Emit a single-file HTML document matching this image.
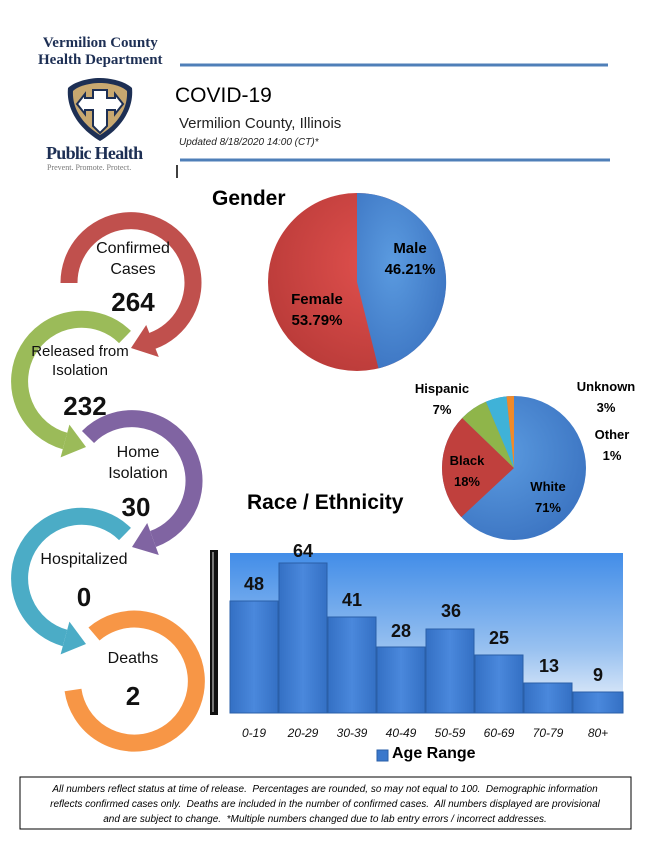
<!DOCTYPE html>
<html><head><meta charset="utf-8"><style>
body{margin:0;background:#fff;width:651px;height:846px;overflow:hidden;position:relative;font-family:"Liberation Sans",sans-serif}
.a{position:absolute;white-space:nowrap}
.c{transform:translateX(-50%);text-align:center}
.lab{font-size:16px;color:#111}
.num{font-size:26px;font-weight:bold;color:#111}
.xl{font-size:12px;font-style:italic;color:#111;top:726px}
.bv{font-size:18px;font-weight:bold;color:#111}
</style></head><body>
<svg class="a" style="left:0;top:0" width="651" height="846">
<line x1="180" y1="65" x2="608" y2="65" stroke="#4f7fb8" stroke-width="3"/>
<line x1="180" y1="160" x2="610" y2="160" stroke="#4f7fb8" stroke-width="3"/>
<line x1="177" y1="165" x2="177" y2="178" stroke="#000" stroke-width="1.5"/>
<path d="M100 78 C88 78 74 82 68 88 C66 108 78 128 100 141 C122 128 134 108 132 88 C126 82 112 78 100 78Z" fill="#1d2f54"/>
<path d="M100 83 C90 83 78 86 73 91 C72 108 82 124 100 135 C118 124 128 108 127 91 C122 86 110 83 100 83Z" fill="#c8a870"/>
<path d="M93 90 h14 v8 h8 v-4 l8 10 l-8 10 v-4 h-8 v16 l-7 7 l-7 -7 v-16 h-8 v4 l-8 -10 l8 -10 v4 h8z" fill="#fff" stroke="#1d2f54" stroke-width="2"/>
<g fill="none" stroke-width="17">
<path d="M69 283 A62 62 0 1 1 152 341" stroke="#c0504d"/>
<path d="M125 337 A62 62 0 1 0 65 441" stroke="#9bbb59"/>
<path d="M88 437 A62 62 0 1 1 153 539" stroke="#8064a2"/>
<path d="M125 534 A62 62 0 1 0 65 638" stroke="#4bacc6"/>
<path d="M94 634 A62 62 0 1 1 73 690" stroke="#f79646"/>
</g>
<polygon points="131,348 158.8,357 146.2,325" fill="#c0504d"/>
<polygon points="86,447 60.6,457.4 69.4,424.6" fill="#9bbb59"/>
<polygon points="132,547 158.8,555 147.2,523" fill="#8064a2"/>
<polygon points="86,644 60.6,654.4 69.4,621.6" fill="#4bacc6"/>
<defs>
<radialGradient id="gb" cx="0.4" cy="0.4" r="0.7"><stop offset="0" stop-color="#5b9be0"/><stop offset="1" stop-color="#3a72c0"/></radialGradient>
<radialGradient id="gr" cx="0.6" cy="0.4" r="0.7"><stop offset="0" stop-color="#e0504d"/><stop offset="1" stop-color="#b83a38"/></radialGradient>
<linearGradient id="bg" x1="0" y1="0" x2="0" y2="1"><stop offset="0" stop-color="#428de8"/><stop offset="0.6" stop-color="#98c1f0"/><stop offset="1" stop-color="#eef3fb"/></linearGradient>
<linearGradient id="bar" x1="0" y1="0" x2="1" y2="0"><stop offset="0" stop-color="#3470c4"/><stop offset="0.5" stop-color="#4a88dc"/><stop offset="1" stop-color="#3470c4"/></linearGradient>
</defs>
<circle cx="357" cy="282" r="89" fill="url(#gr)"/>
<path d="M357 282 L357 193 A89 89 0 0 1 378.5 368.4 Z" fill="url(#gb)"/>
<circle cx="514" cy="468" r="72" fill="url(#gb)"/>
<path d="M514 468 L461.3 517.1 A72 72 0 0 1 462.2 418 Z" fill="#c0403d"/>
<path d="M514 468 L462.2 418 A72 72 0 0 1 486 401.6 Z" fill="#8fb54a"/>
<path d="M514 468 L486 401.6 A72 72 0 0 1 506.5 396.4 Z" fill="#3fb2d8"/>
<path d="M514 468 L506.5 396.4 A72 72 0 0 1 514 396 Z" fill="#f08a2a"/>
<rect x="230" y="553" width="393" height="160" fill="url(#bg)"/>
<g fill="url(#bar)" stroke="#2a5fa8" stroke-width="1">
<rect x="230" y="601" width="48" height="112"/>
<rect x="279" y="563" width="48" height="150"/>
<rect x="328" y="617" width="48" height="96"/>
<rect x="377" y="647" width="48" height="66"/>
<rect x="426" y="629" width="48" height="84"/>
<rect x="475" y="655" width="48" height="58"/>
<rect x="524" y="683" width="48" height="30"/>
<rect x="573" y="692" width="50" height="21"/>
</g>
<rect x="210" y="550" width="8" height="165" fill="#111"/>
<rect x="212" y="552" width="2" height="160" fill="#777"/>
<rect x="377" y="750" width="11" height="11" fill="#3a78cc" stroke="#2a5fa8"/>
<rect x="20" y="777" width="611" height="52" fill="none" stroke="#000" stroke-width="1"/>
</svg>

<div class="a" style="left:38px;top:35px;font-family:'Liberation Serif',serif;font-weight:bold;font-size:15px;color:#1d2f54;line-height:17px;text-align:center">Vermilion County<br>Health Department</div>
<div class="a" style="left:46px;top:143px;font-family:'Liberation Serif',serif;font-weight:bold;font-size:18px;color:#1d2f54;letter-spacing:-0.7px">Public Health</div>
<div class="a" style="left:47px;top:163px;font-family:'Liberation Serif',serif;font-size:8px;color:#777">Prevent. Promote. Protect.</div>
<div class="a" style="left:175px;top:84px;font-size:21px;color:#000">COVID-19</div>
<div class="a" style="left:179px;top:115px;font-size:15px;color:#222">Vermilion County, Illinois</div>
<div class="a" style="left:179px;top:137px;font-size:10px;font-style:italic;color:#222">Updated 8/18/2020 14:00 (CT)*</div>

<div class="a lab c" style="left:133px;top:238px;line-height:21px">Confirmed<br>Cases</div>
<div class="a num c" style="left:133px;top:287px">264</div>
<div class="a lab c" style="left:80px;top:342px;font-size:15px;line-height:19px">Released from<br>Isolation</div>
<div class="a num c" style="left:85px;top:391px">232</div>
<div class="a lab c" style="left:138px;top:442px;line-height:21px">Home<br>Isolation</div>
<div class="a num c" style="left:136px;top:492px">30</div>
<div class="a lab c" style="left:84px;top:551px">Hospitalized</div>
<div class="a num c" style="left:84px;top:582px">0</div>
<div class="a lab c" style="left:133px;top:650px">Deaths</div>
<div class="a num c" style="left:133px;top:681px">2</div>

<div class="a" style="left:212px;top:187px;font-size:21px;font-weight:bold">Gender</div>
<div class="a c" style="left:410px;top:238px;font-size:15px;font-weight:bold;line-height:21px">Male<br>46.21%</div>
<div class="a c" style="left:317px;top:289px;font-size:15px;font-weight:bold;line-height:21px">Female<br>53.79%</div>
<div class="a" style="left:247px;top:491px;font-size:21px;font-weight:bold">Race / Ethnicity</div>
<div class="a c" style="left:442px;top:378px;font-size:13px;font-weight:bold;line-height:21px">Hispanic<br>7%</div>
<div class="a c" style="left:606px;top:376px;font-size:13px;font-weight:bold;line-height:21px">Unknown<br>3%</div>
<div class="a c" style="left:612px;top:424px;font-size:13px;font-weight:bold;line-height:21px">Other<br>1%</div>
<div class="a c" style="left:467px;top:450px;font-size:13px;font-weight:bold;line-height:21px">Black<br>18%</div>
<div class="a c" style="left:548px;top:476px;font-size:13px;font-weight:bold;line-height:21px">White<br>71%</div>

<div class="a bv c" style="left:254px;top:574px">48</div>
<div class="a bv c" style="left:303px;top:541px">64</div>
<div class="a bv c" style="left:352px;top:590px">41</div>
<div class="a bv c" style="left:401px;top:621px">28</div>
<div class="a bv c" style="left:451px;top:601px">36</div>
<div class="a bv c" style="left:499px;top:628px">25</div>
<div class="a bv c" style="left:549px;top:656px">13</div>
<div class="a bv c" style="left:598px;top:665px">9</div>
<div class="a xl c" style="left:254px">0-19</div>
<div class="a xl c" style="left:303px">20-29</div>
<div class="a xl c" style="left:352px">30-39</div>
<div class="a xl c" style="left:401px">40-49</div>
<div class="a xl c" style="left:450px">50-59</div>
<div class="a xl c" style="left:499px">60-69</div>
<div class="a xl c" style="left:548px">70-79</div>
<div class="a xl c" style="left:598px">80+</div>
<div class="a" style="left:392px;top:745px;font-size:16px;font-weight:bold">Age Range</div>

<div class="a c" style="left:325px;top:782px;font-size:10px;font-style:italic;line-height:15px">All numbers reflect status at time of release.&nbsp; Percentages are rounded, so may not equal to 100.&nbsp; Demographic information<br>reflects confirmed cases only.&nbsp; Deaths are included in the number of confirmed cases.&nbsp; All numbers displayed are provisional<br>and are subject to change.&nbsp; *Multiple numbers changed due to lab entry errors / incorrect addresses.</div>
</body></html>
